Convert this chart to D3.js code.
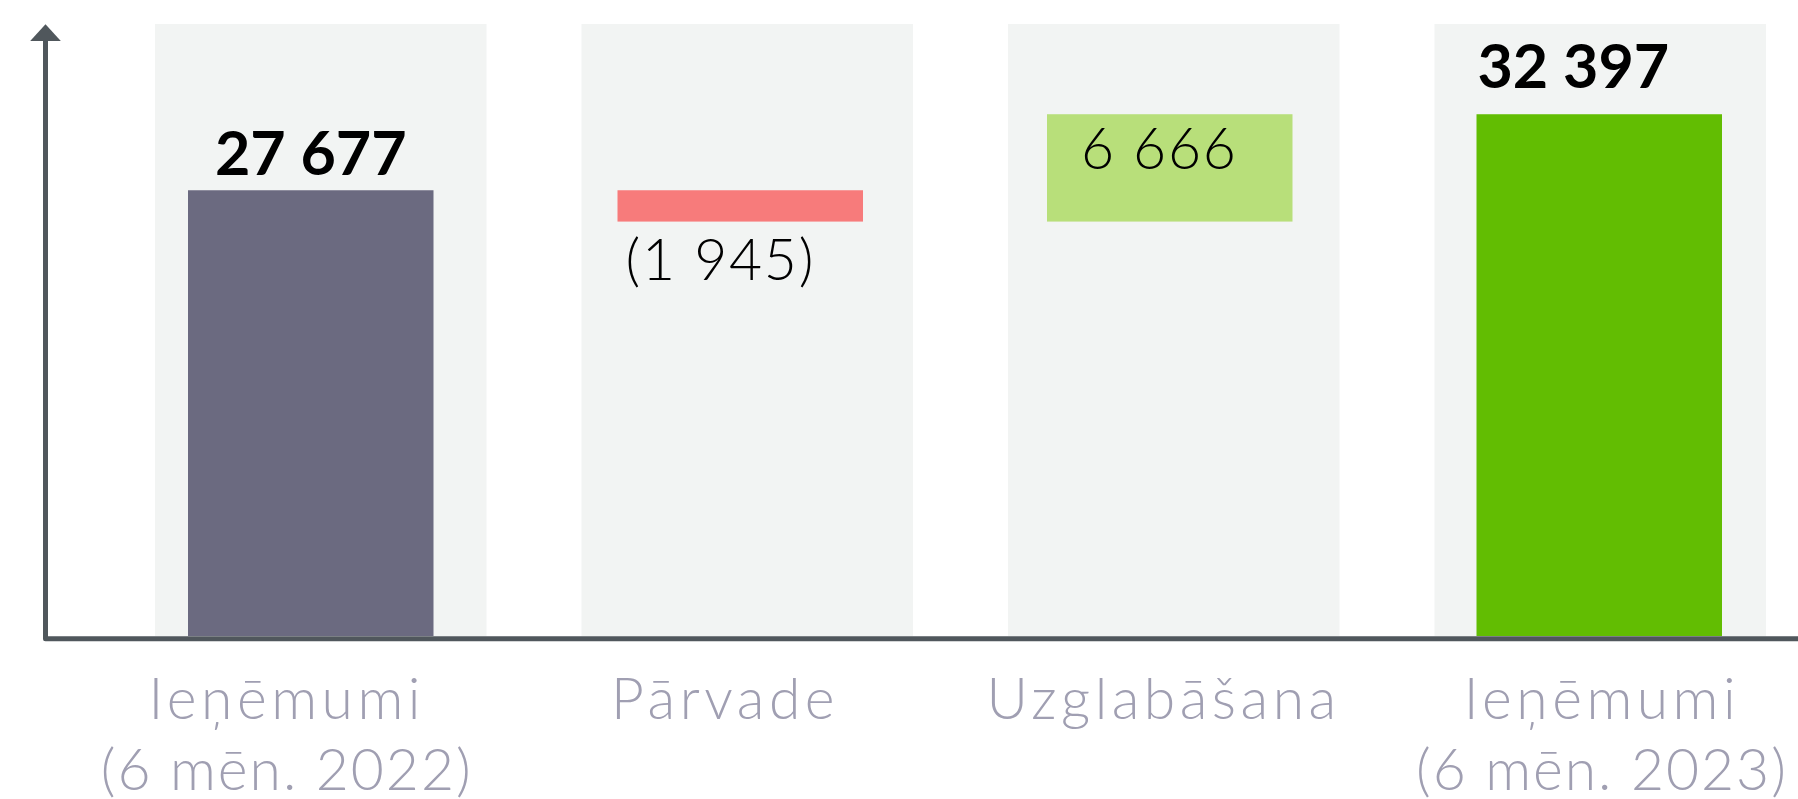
<!DOCTYPE html>
<html>
<head>
<meta charset="utf-8">
<script src="https://cdn.jsdelivr.net/npm/d3@7"></script>
<style>
  html, body { margin: 0; padding: 0; background: #ffffff; }
  svg { display: block; }
</style>
</head>
<body>
<svg id="chart" width="1798" height="799"></svg>
<script>
// ---- data ----
const categories = ["Ieņēmumi\n(6 mēn. 2022)", "Pārvade", "Uzglabāšana", "Ieņēmumi\n(6 mēn. 2023)"];
const values = [27677, -1945, 6666, 32397];
const kinds = ["total", "delta", "delta", "total"];
const valueLabels = ["27 677", "(1 945)", "6 666", "32 397"];
const yDomain = [0, 38000];

// ---- layout ----
const W = 1798, H = 799;
const svg = d3.select("#chart");
const colors = ["#6b6a80", "#f77b7b", "#b8df7a", "#62bd02"];
const axisColor = "#50575c";

const y = d3.scaleLinear().domain(yDomain).range([636, 24]);
const xPanel = d3.scaleBand().domain(categories).range([155, 1766]).paddingInner(0.2227).paddingOuter(0);
const xBar = d3.scaleBand().domain(categories).range([188, 1722]).paddingInner(0.4284).paddingOuter(0);
const xLabel = d3.scalePoint().domain(categories).range([286.7, 1601.9]);

// waterfall extents
let running = 0;
const bars = categories.map((c, i) => {
  let y0, y1;
  if (kinds[i] === "total") { y0 = 0; y1 = values[i]; running = values[i]; }
  else { y0 = running; y1 = running + values[i]; running = y1; }
  return { c, i, lo: Math.min(y0, y1), hi: Math.max(y0, y1), v: values[i], kind: kinds[i] };
});

// background panels
svg.append("g").selectAll("rect").data(categories).join("rect")
  .attr("x", d => xPanel(d)).attr("width", xPanel.bandwidth())
  .attr("y", y(yDomain[1])).attr("height", y(0) - y(yDomain[1]))
  .attr("fill", "#f2f4f3");

// bars
svg.append("g").selectAll("rect").data(bars).join("rect")
  .attr("x", d => xBar(d.c)).attr("width", xBar.bandwidth())
  .attr("y", d => y(d.hi)).attr("height", d => y(d.lo) - y(d.hi))
  .attr("fill", (d, i) => colors[i]);

// value labels
svg.append("g").selectAll("text").data(bars).join("text")
  .attr("font-family", "Lato, 'Open Sans', sans-serif")
  .attr("font-weight", d => d.kind === "total" ? 700 : 300)
  .attr("font-size", d => d.kind === "total" ? 61 : 57)
  .attr("letter-spacing", d => d.kind === "total" ? 0 : 1.8)
  .attr("fill", "#000")
  .attr("text-anchor", d => d.i === 0 ? "middle" : "start")
  .attr("x", d => {
    if (d.i === 0) return xBar(d.c) + xBar.bandwidth() / 2;
    if (d.kind === "total") return xBar(d.c) + 1;
    return d.v < 0 ? xBar(d.c) + 8 : xBar(d.c) + 34;
  })
  .attr("y", d => {
    if (d.kind === "total") return y(d.hi) - (d.i === 0 ? 15 : 26);
    return d.v < 0 ? y(d.lo) + 58 : y(d.hi) + 55;
  })
  .text((d, i) => valueLabels[i]);

// category labels
const cat = svg.append("g").selectAll("text").data(categories).join("text")
  .attr("font-family", "Lato, 'Open Sans', sans-serif")
  .attr("font-weight", 300)
  .attr("font-size", 57)
  .attr("fill", "#a09fb2")
  .attr("text-anchor", "middle")
  .attr("x", d => xLabel(d))
  .attr("y", 719);
cat.each(function(d) {
  const lines = d.split("\n");
  d3.select(this).selectAll("tspan").data(lines).join("tspan")
    .attr("x", xLabel(d))
    .attr("dy", (l, j) => j === 0 ? 0 : 71)
    .attr("letter-spacing", (l, j) => j === 0 ? 4.5 : 2)
    .text(l => l);
});

// axes
const ax = svg.append("g");
const axX = 45.5, axY = 638.7;
ax.append("path")
  .attr("d", `M${axX},38 L${axX},${axY} L${W},${axY}`)
  .attr("fill", "none").attr("stroke", axisColor).attr("stroke-width", 5)
  .attr("stroke-linejoin", "round");
ax.append("path")
  .attr("d", `M${axX},24.3 L${axX + 15.3},41 L${axX - 15.3},41 Z`)
  .attr("fill", axisColor);
</script>
</body>
</html>
